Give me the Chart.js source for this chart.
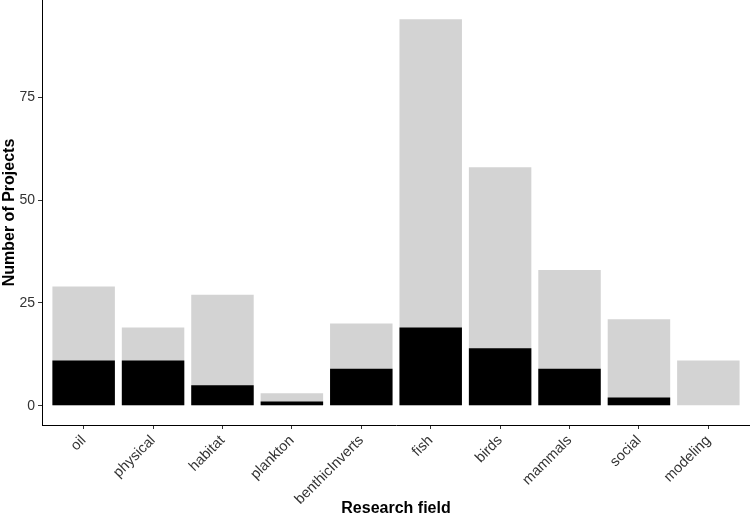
<!DOCTYPE html>
<html lang="en">
<head>
  <meta charset="UTF-8">
  <title>Projects by Research field</title>
  <script src="https://cdn.jsdelivr.net/npm/chart.js"></script>
  <style>
    body { margin: 0; background: #fff; font-family: "Liberation Sans", Arial, sans-serif; }
    #wrap { width: 750px; height: 520px; position: relative; }
  </style>
</head>
<body>
<div id="wrap"><canvas id="fieldChart"></canvas></div>

<script>
  // data
  const fields = ['oil', 'physical', 'habitat', 'plankton', 'benthicInverts', 'fish', 'birds', 'mammals', 'social', 'modeling'];
  const totalProjects = [29, 19, 27, 3, 20, 94, 58, 33, 21, 11];
  const subsetProjects = [11, 11, 5, 1, 9, 19, 14, 9, 2, 0];
  const yTicks = [0, 25, 50, 75];

  const toPoints = arr => arr.map((v, i) => ({ x: i + 1, y: v }));

  const ctx = document.getElementById('fieldChart').getContext('2d');
  new Chart(ctx, {
    type: 'bar',
    data: {
      datasets: [
        {
          label: 'subset',
          data: toPoints(subsetProjects),
          backgroundColor: '#000000',
          grouped: false,
          order: 0,
          barPercentage: 0.9,
          categoryPercentage: 1
        },
        {
          label: 'total',
          data: toPoints(totalProjects),
          backgroundColor: '#D3D3D3',
          grouped: false,
          order: 1,
          barPercentage: 0.9,
          categoryPercentage: 1
        }
      ]
    },
    options: {
      responsive: true,
      maintainAspectRatio: false,
      animation: false,
      layout: { padding: 0 },
      plugins: {
        legend: { display: false },
        tooltip: { enabled: false }
      },
      scales: {
        x: {
          type: 'linear',
          min: 0.4,
          max: 10.6,
          offset: false,
          afterBuildTicks: axis => { axis.ticks = fields.map((f, i) => ({ value: i + 1 })); },
          afterFit: axis => { axis.height = 95; axis.paddingRight = 0; axis.paddingLeft = 0; },
          ticks: {
            autoSkip: false,
            maxRotation: 45,
            minRotation: 45,
            color: '#333333',
            font: { family: 'Liberation Sans', size: 14.5 },
            padding: 3,
            callback: v => fields[v - 1]
          },
          grid: { drawOnChartArea: false, offset: false, tickLength: 4, color: '#333', tickWidth: 1 },
          border: { display: true, color: '#000', width: 1 },
          title: {
            display: true,
            text: 'Research field',
            color: '#000',
            font: { family: 'Liberation Sans', size: 16, weight: 'bold' },
            padding: { top: 4, bottom: 2 }
          }
        },
        y: {
          min: -4.7,
          max: 98.7,
          afterBuildTicks: axis => { axis.ticks = yTicks.map(v => ({ value: v })); },
          afterFit: axis => { axis.width = 42; axis.paddingTop = 0; axis.paddingBottom = 0; },
          ticks: {
            color: '#333333',
            font: { family: 'Liberation Sans', size: 14 },
            padding: 3
          },
          grid: { drawOnChartArea: false, tickLength: 4, color: '#333', tickWidth: 1 },
          border: { display: true, color: '#000', width: 1 },
          title: {
            display: true,
            text: 'Number of Projects',
            color: '#000',
            font: { family: 'Liberation Sans', size: 16, weight: 'bold' },
            padding: { top: 0, bottom: 2 }
          }
        }
      }
    }
  });
</script>
</body>
</html>
